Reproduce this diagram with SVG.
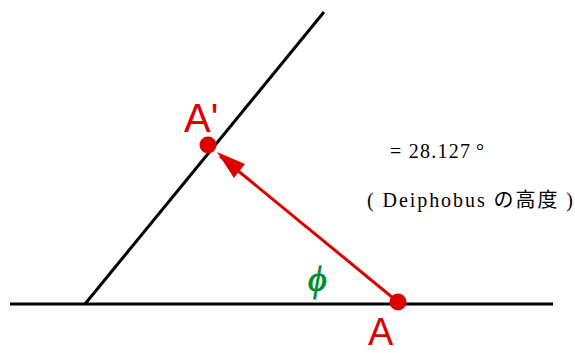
<svg xmlns="http://www.w3.org/2000/svg" width="575" height="353" viewBox="0 0 575 353">
<style>
.blk{stroke:#000;stroke-width:3;fill:none}
.red{stroke:#dd0000;stroke-width:3;fill:none}
.rf{fill:#dd0000}
.lbl{font-family:"Liberation Sans",Arial,sans-serif;fill:#dd0000}
.txt{font-family:"Liberation Serif","Noto Sans CJK JP",serif;font-size:20px;fill:#000}
</style>
<rect width="575" height="353" fill="#fff"/>
<g id="connectors">
<line class="blk" x1="10" y1="304" x2="553" y2="304"/>
<line class="blk" x1="85" y1="304" x2="324" y2="12"/>
<line class="red" x1="398" y1="302" x2="220" y2="156"/>
<polygon class="rf" points="217,152 245,164 234,178"/>
</g>
<g id="nodeA1">
<circle class="rf" cx="208" cy="145" r="8.5"/>
<text class="lbl" x="184" y="132" font-size="40">A'</text>
</g>
<g id="nodeA">
<circle class="rf" cx="398" cy="302" r="8.5"/>
<text class="lbl" x="368" y="345" font-size="38">A</text>
</g>
<g id="phi">
<text x="308" y="291" font-family="'Liberation Serif',serif" font-style="italic" font-size="36" fill="#008a2e" stroke="#008a2e" stroke-width="0.8">ϕ</text>
</g>
<g id="labels">
<text class="txt" x="390" y="158" textLength="80" lengthAdjust="spacing">= 28.127</text>
<text class="txt" x="476" y="158">°</text>
<text class="txt" x="367" y="207" textLength="206" lengthAdjust="spacing">( Deiphobus の高度 )</text>
</g>
</svg>
